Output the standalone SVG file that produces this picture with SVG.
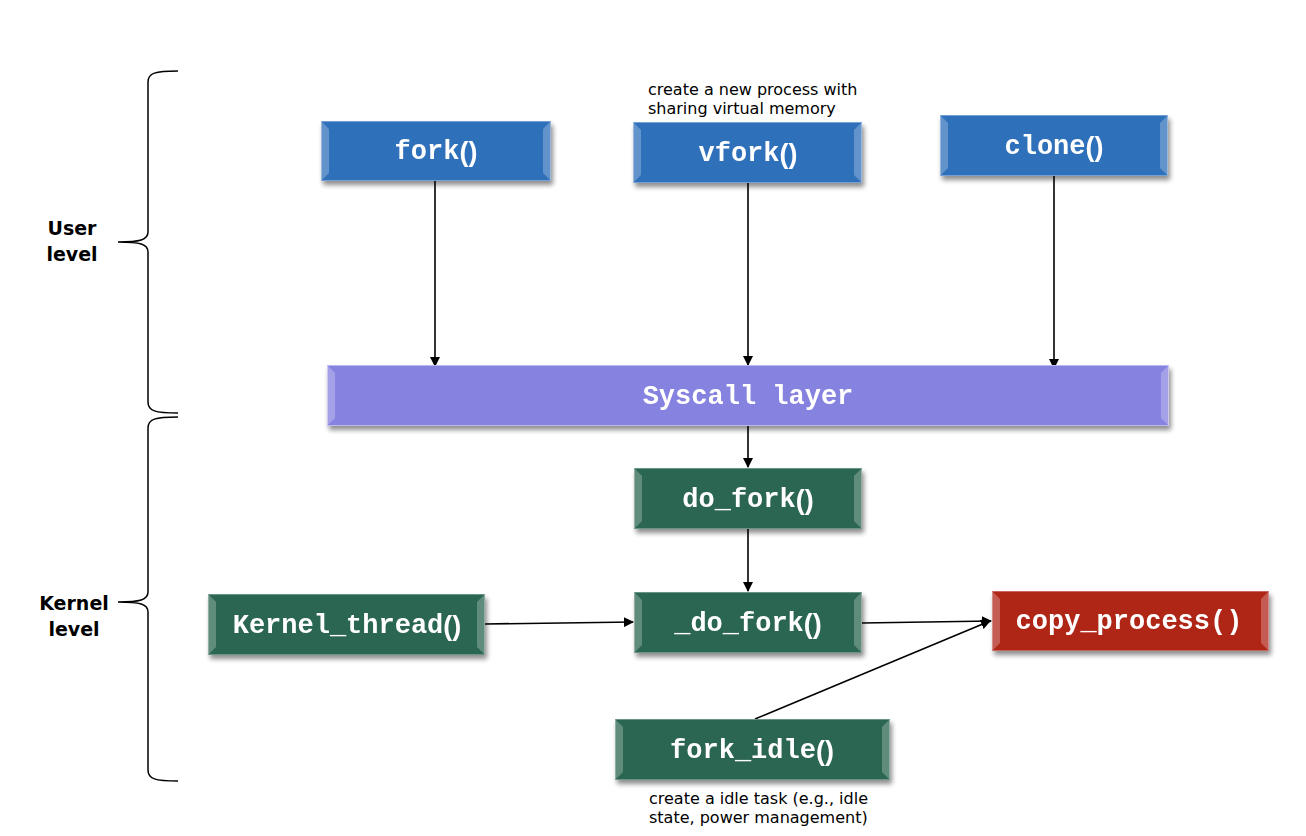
<svg xmlns="http://www.w3.org/2000/svg" width="1306" height="836" viewBox="0 0 1306 836">
<style>
.lbl{font-family:"Liberation Mono","Courier New",monospace;font-weight:bold;font-size:27px;fill:#ffffff;text-anchor:middle;dominant-baseline:central}
.p{font-family:"Liberation Sans",Arial,sans-serif}
.note{font-family:"DejaVu Sans",Verdana,sans-serif;font-size:16px;fill:#000}
.side{font-family:"DejaVu Sans",Verdana,sans-serif;font-weight:bold;font-size:19px;fill:#000;text-anchor:middle}
.conn{stroke:#000;stroke-width:1.6;fill:none;marker-end:url(#ah)}
.brace{stroke:#000;stroke-width:1.5;fill:none}
.blue{fill:#2f6fba}
.purple{fill:#8682df}
.green{fill:#2c6651}
.red{fill:#b02519}
.hl{fill:#ffffff;opacity:0.25}
</style>
<defs>
<marker id="ah" markerWidth="10" markerHeight="10" refX="9" refY="5" orient="auto" markerUnits="userSpaceOnUse">
<path d="M0,0 L10,5 L0,10 Z" fill="#000"/>
</marker>
<filter id="sh" x="-10%" y="-20%" width="120%" height="150%">
<feGaussianBlur in="SourceAlpha" stdDeviation="2.5"/>
<feOffset dx="2" dy="4" result="b"/>
<feComponentTransfer><feFuncA type="linear" slope="0.45"/></feComponentTransfer>
<feMerge><feMergeNode/><feMergeNode in="SourceGraphic"/></feMerge>
</filter>
</defs>

<rect width="1306" height="836" fill="#ffffff"/>

<g id="braces">
<path class="brace" d="M178,71 C155,71 148,73 148,82 L148,232 C148,240 140,242 118,242 C140,242 148,244 148,252 L148,402 C148,411 155,413 178,413"/>
<path class="brace" d="M178,417 C155,417 148,419 148,428 L148,592 C148,600 140,602 118,602 C140,602 148,604 148,612 L148,770 C148,779 155,781 178,781"/>
<text class="side" x="72" y="235">User</text>
<text class="side" x="72" y="261">level</text>
<text class="side" x="74" y="610">Kernel</text>
<text class="side" x="74" y="636">level</text>
</g>

<g id="connectors">
<line class="conn" x1="435" y1="181" x2="435" y2="366"/>
<line class="conn" x1="748" y1="183" x2="748" y2="365"/>
<line class="conn" x1="1054" y1="176" x2="1054" y2="368"/>
<line class="conn" x1="748" y1="426" x2="748" y2="467"/>
<line class="conn" x1="748" y1="529" x2="748" y2="591"/>
<line class="conn" x1="485" y1="624" x2="633" y2="622"/>
<line class="conn" x1="862" y1="623" x2="991" y2="621"/>
<line class="conn" x1="755" y1="719" x2="990" y2="621"/>
</g>

<g id="fork" filter="url(#sh)">
<rect class="blue" x="321" y="121" width="230" height="60"/>
<path class="hl" d="M321,121 L329,129 L329,173 L321,181 Z"/>
<path class="hl" d="M551,121 L543,129 L543,173 L551,181 Z"/>
<rect x="321.5" y="121.5" width="229" height="59" fill="none" stroke="#ffffff" stroke-opacity="0.35"/>
<text class="lbl" x="436" y="152">fork<tspan class="p">()</tspan></text>
</g>

<g id="vfork" filter="url(#sh)">
<rect class="blue" x="633" y="122" width="229" height="61"/>
<path class="hl" d="M633,122 L641,130 L641,175 L633,183 Z"/>
<path class="hl" d="M862,122 L854,130 L854,175 L862,183 Z"/>
<rect x="633.5" y="122.5" width="228" height="60" fill="none" stroke="#ffffff" stroke-opacity="0.35"/>
<text class="lbl" x="748" y="154">vfork<tspan class="p">()</tspan></text>
</g>
<text class="note" x="648" y="95">create a new process with</text>
<text class="note" x="648" y="114">sharing virtual memory</text>

<g id="clone" filter="url(#sh)">
<rect class="blue" x="940" y="115" width="228" height="61"/>
<path class="hl" d="M940,115 L948,123 L948,168 L940,176 Z"/>
<path class="hl" d="M1168,115 L1160,123 L1160,168 L1168,176 Z"/>
<rect x="940.5" y="115.5" width="227" height="60" fill="none" stroke="#ffffff" stroke-opacity="0.35"/>
<text class="lbl" x="1054" y="147">clone<tspan class="p">()</tspan></text>
</g>

<g id="syscall" filter="url(#sh)">
<rect class="purple" x="327" y="365" width="842" height="61"/>
<path class="hl" d="M327,365 L335,373 L335,418 L327,426 Z" opacity="0.5"/>
<path class="hl" d="M1169,365 L1161,373 L1161,418 L1169,426 Z" opacity="0.5"/>
<rect x="327.5" y="365.5" width="841" height="60" fill="none" stroke="#ffffff" stroke-opacity="0.45"/>
<text class="lbl" x="748" y="397">Syscall layer</text>
</g>

<g id="do_fork" filter="url(#sh)">
<rect class="green" x="634" y="468" width="228" height="61"/>
<path class="hl" d="M634,468 L642,476 L642,521 L634,529 Z"/>
<path class="hl" d="M862,468 L854,476 L854,521 L862,529 Z"/>
<rect x="634.5" y="468.5" width="227" height="60" fill="none" stroke="#ffffff" stroke-opacity="0.3"/>
<text class="lbl" x="748" y="500">do_fork<tspan class="p">()</tspan></text>
</g>

<g id="_do_fork" filter="url(#sh)">
<rect class="green" x="634" y="592" width="228" height="61"/>
<path class="hl" d="M634,592 L642,600 L642,645 L634,653 Z"/>
<path class="hl" d="M862,592 L854,600 L854,645 L862,653 Z"/>
<rect x="634.5" y="592.5" width="227" height="60" fill="none" stroke="#ffffff" stroke-opacity="0.3"/>
<text class="lbl" x="748" y="624">_do_fork<tspan class="p">()</tspan></text>
</g>

<g id="kernel_thread" filter="url(#sh)">
<rect class="green" x="208" y="594" width="277" height="61"/>
<path class="hl" d="M208,594 L216,602 L216,647 L208,655 Z"/>
<path class="hl" d="M485,594 L477,602 L477,647 L485,655 Z"/>
<rect x="208.5" y="594.5" width="276" height="60" fill="none" stroke="#ffffff" stroke-opacity="0.3"/>
<text class="lbl" x="347" y="626">Kernel_thread<tspan class="p">()</tspan></text>
</g>

<g id="copy_process" filter="url(#sh)">
<rect class="red" x="992" y="591" width="277" height="60"/>
<path class="hl" d="M992,591 L1000,599 L1000,643 L992,651 Z"/>
<path class="hl" d="M1269,591 L1261,599 L1261,643 L1269,651 Z"/>
<rect x="992.5" y="591.5" width="276" height="59" fill="none" stroke="#ffffff" stroke-opacity="0.3"/>
<text class="lbl" x="1129" y="622">copy_process()</text>
</g>

<g id="fork_idle" filter="url(#sh)">
<rect class="green" x="615" y="719" width="275" height="61"/>
<path class="hl" d="M615,719 L623,727 L623,772 L615,780 Z"/>
<path class="hl" d="M890,719 L882,727 L882,772 L890,780 Z"/>
<rect x="615.5" y="719.5" width="274" height="60" fill="none" stroke="#ffffff" stroke-opacity="0.3"/>
<text class="lbl" x="752" y="751">fork_idle<tspan class="p">()</tspan></text>
</g>
<text class="note" x="649" y="804">create a idle task (e.g., idle</text>
<text class="note" x="649" y="823">state, power management)</text>
</svg>
